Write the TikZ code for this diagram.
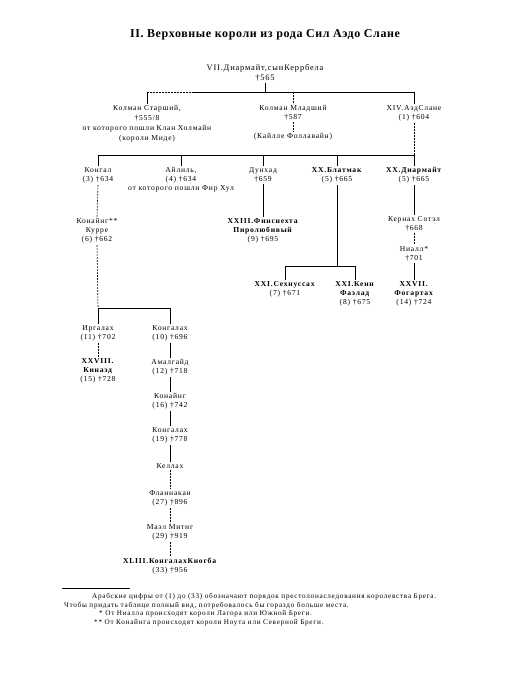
\documentclass[tikz,border=0pt]{standalone}
\usepackage{fontspec}
\setmainfont{Liberation Serif}[LetterSpace=10]
\newfontfamily\titlefont{Liberation Serif}[LetterSpace=5]
\begin{document}
\begin{tikzpicture}[x=1pt,y=-1pt,
  lbl/.style={font=\fontsize{7.6}{9}\selectfont, align=center, inner sep=1.5pt, anchor=north},
  ttl/.style={font=\titlefont\fontsize{12}{14}\selectfont\bfseries, inner sep=0pt},
  fn/.style={font=\fontsize{7.2}{8.5}\selectfont, inner sep=0pt, anchor=west},
  ln/.style={line width=0.6pt},
  dl/.style={line width=0.6pt, dash pattern=on 1.6pt off 1.4pt}]
\path[use as bounding box, fill=white] (0,0) rectangle (520,700);

\node[ttl] (title) at (265,35) {II. Верховные короли из рода Сил Аэдо Слане};

\node[lbl, font=\fontsize{8.4}{9.5}\selectfont] (r) at (265,63) {VII.Диармайт,сынКеррбела\\†565};

\node[lbl, font=\fontsize{7.6}{9.8}\selectfont] (ks) at (147,104) {Колман Старший,\\†555/8\\от которого пошли Клан Холмайн\\(короли Миде)};
\node[lbl] (km) at (293,104) {Колман Младший\\†587};
\node[lbl] (km2) at (293,132) {(Кайлле Фоллавайн)};
\node[lbl] (aed) at (414,104) {XIV.АэдСлане\\(1) †604};

\node[lbl] (kong) at (98,166) {Конгал\\(3) †634};
\node[lbl] (ail) at (181,166) {Айлиль,\\(4) †634\\от которого пошли Фир Хул};
\node[lbl] (dun) at (263,166) {Дунхад\\†659};
\node[lbl] (blat) at (337,166) {\textbf{XX.Блатмак}\\(5) †665};
\node[lbl] (diar) at (414,166) {\textbf{XX.Диармайт}\\(5) †665};

\node[lbl] (konaing) at (97,217) {Конайнг**\\Курре\\(6) †662};
\node[lbl] (finn) at (263,217) {\textbf{XXIII.Финснехта}\\\textbf{Пиролюбивый}\\(9) †695};
\node[lbl] (kern) at (414,215) {Кернах Сотэл\\†668};
\node[lbl] (niall) at (414,245) {Ниалл*\\†701};

\node[lbl] (sech) at (285,280) {\textbf{XXI.Сехнуссах}\\(7) †671};
\node[lbl] (kenn) at (355,280) {\textbf{XXI.Кенн}\\\textbf{Фаэлад}\\(8) †675};
\node[lbl] (fog) at (414,280) {\textbf{XXVII.}\\\textbf{Фогартах}\\(14) †724};

\node[lbl] (irg) at (98,324) {Иргалах\\(11) †702};
\node[lbl] (kon10) at (170,324) {Конгалах\\(10) †696};
\node[lbl] (kin) at (98,357) {\textbf{XXVIII.}\\\textbf{Кинаэд}\\(15) †728};
\node[lbl] (amal) at (170,358) {Амалгайд\\(12) †718};
\node[lbl] (kon16) at (170,392) {Конайнг\\(16) †742};
\node[lbl] (kon19) at (170,426) {Конгалах\\(19) †778};
\node[lbl] (kell) at (170,462) {Келлах};
\node[lbl] (flann) at (170,489) {Фланнакан\\(27) †896};
\node[lbl] (mael) at (170,523) {Маэл Митиг\\(29) †919};
\node[lbl] (xliii) at (170,556) {\textbf{XLIII.КонгалахКногба}\\(33) †956};

% junction coordinates
\coordinate (j0) at (265,92);
\coordinate (jks) at (147,92);
\coordinate (jkm) at (293,92);
\coordinate (jae) at (414,92);
\coordinate (j1) at (414,155);
\coordinate (j1a) at (98,155);
\coordinate (j1b) at (181,155);
\coordinate (j1c) at (263,155);
\coordinate (j1d) at (337,155);
\coordinate (j2) at (98,308);
\coordinate (j2b) at (170,308);
\coordinate (j3) at (337,266);
\coordinate (j3a) at (285,266);
\coordinate (j3b) at (355,266);

% connectors
\draw[ln] (r.south) -- (j0);
\draw[dl] (jks) -- (192,92);
\draw[ln] (192,92) -- (jae);
\draw[ln] (jks) -- (ks.north);
\draw[dl] (jkm) -- (km.north);
\draw[dl] (km.south) -- (km2.north);
\draw[ln] (jae) -- (aed.north);
\draw[dl] (aed.south) -- (j1);
\draw[ln] (j1a) -- (j1);
\draw[ln] (j1a) -- (kong.north);
\draw[ln] (j1b) -- (ail.north);
\draw[ln] (j1c) -- (dun.north);
\draw[ln] (j1d) -- (blat.north);
\draw[ln] (j1) -- (diar.north);

\draw[ln] (dun.south) -- (finn.north);
\draw[dl] (kong.south) -- (konaing.north);
\draw[dl] (konaing.south) -- (j2);
\draw[ln] (j2) -- (j2b);
\draw[ln] (j2) -- (irg.north);
\draw[ln] (j2b) -- (kon10.north);
\draw[dl] (irg.south) -- (kin.north);
\draw[ln] (kon10.south) -- (amal.north);
\draw[ln] (amal.south) -- (kon16.north);
\draw[ln] (kon16.south) -- (kon19.north);
\draw[ln] (kon19.south) -- (kell.north);
\draw[dl] (kell.south) -- (flann.north);
\draw[dl] (flann.south) -- (mael.north);
\draw[dl] (mael.south) -- (xliii.north);

\draw[ln] (blat.south) -- (j3);
\draw[ln] (j3a) -- (j3b);
\draw[ln] (j3a) -- (sech.north);
\draw[ln] (j3b) -- (kenn.north);

\draw[ln] (diar.south) -- (kern.north);
\draw[dl] (kern.south) -- (niall.north);
\draw[ln] (niall.south) -- (fog.north);

% footnotes
\coordinate (fr1) at (62,588);
\coordinate (fr2) at (130,588);
\draw[line width=0.5pt] (fr1) -- (fr2);
\node[fn] (f1) at (92,597) {Арабские цифры от (1) до (33) обозначают порядок престолонаследования королевства Брега.};
\node[fn] (f2) at (64,605.5) {Чтобы придать таблице полный вид, потребовалось бы гораздо больше места.};
\node[fn] (f3) at (94,614) {\ \ * От Ниалла происходят короли Лагора или Южной Бреги.};
\node[fn] (f4) at (94,622.5) {** От Конайнга происходят короли Ноута или Северной Бреги.};
\end{tikzpicture}
\end{document}
